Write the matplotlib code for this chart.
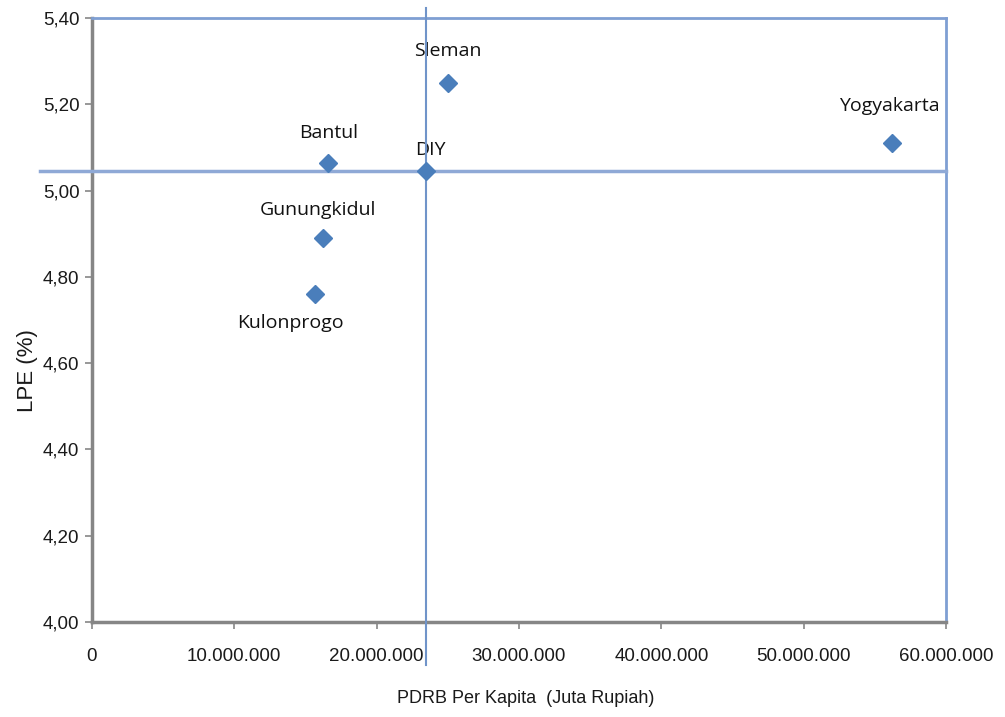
import matplotlib
matplotlib.use("Agg")
import matplotlib.pyplot as plt
from matplotlib.ticker import FuncFormatter

# data: PDRB per kapita (Rp) dan LPE (%)
wilayah = ['Kulonprogo', 'Bantul', 'Gunungkidul', 'Sleman', 'Yogyakarta', 'DIY']
pdrb = [15700000, 16600000, 16200000, 25000000, 56200000, 23500000]
lpe = [4.76, 5.065, 4.89, 5.25, 5.11, 5.045]

# offset label (points) relatif terhadap titik
label_pos = {
    'Kulonprogo': (-18, -21),
    'Bantul': (0, 21),
    'Gunungkidul': (-3, 20),
    'Sleman': (0, 23),
    'Yogyakarta': (-2, 27),
    'DIY': (3, 15),
}

biru = '#4a7ebb'
garis = '#7094c9'
abu = '#868686'

fig = plt.figure(figsize=(10.05, 7.17), dpi=100)
ax = fig.add_axes([0.0915, 0.1325, 0.8498, 0.8424])

ax.plot(pdrb, lpe, linestyle='none', marker='D', markersize=9.5,
        color=biru, zorder=5)

for nama, x, y in zip(wilayah, pdrb, lpe):
    ax.annotate(nama, (x, y), xytext=label_pos[nama], textcoords='offset points',
                ha='center', va='center', fontsize=14, color='#111111',
                family=['Open Sans', 'DejaVu Sans'])

# garis kuadran melalui titik DIY
diy = wilayah.index('DIY')
ax.axvline(pdrb[diy], ymin=-0.071, ymax=1.017, color=garis, lw=1.5,
           clip_on=False, zorder=3)
ax.axhline(lpe[diy], xmin=-0.061, xmax=1.0, color='#8fa9d6', lw=2.5,
           clip_on=False, zorder=3)

ax.set_xlim(0, 60000000)
ax.set_ylim(4.0, 5.4)
ax.set_xticks(range(0, 60000001, 10000000))
ax.set_yticks([4.0, 4.2, 4.4, 4.6, 4.8, 5.0, 5.2, 5.4])
ax.xaxis.set_major_formatter(FuncFormatter(lambda v, p: f"{int(v):,}".replace(',', '.')))
ax.yaxis.set_major_formatter(FuncFormatter(lambda v, p: f"{v:.2f}".replace('.', ',')))

for s in ['top', 'right']:
    ax.spines[s].set_color('#7f9fd3')
    ax.spines[s].set_linewidth(2)
for s in ['left', 'bottom']:
    ax.spines[s].set_color(abu)
    ax.spines[s].set_linewidth(2.5)

ax.tick_params(axis='both', colors=abu, length=5, width=1.2, labelcolor='#1a1a1a',
               labelsize=13.5)
ax.tick_params(axis='x', pad=14)
ax.tick_params(axis='y', pad=4)
for lab in ax.get_xticklabels() + ax.get_yticklabels():
    lab.set_family(['Liberation Sans Narrow', 'Liberation Sans'])

ax.set_xlabel('PDRB Per Kapita  (Juta Rupiah)', fontsize=13, color='#1a1a1a',
              family=['Liberation Sans Narrow', 'Liberation Sans'])
ax.xaxis.set_label_coords(0.508, -0.112)
ax.set_ylabel('LPE (%)', fontsize=16, color='#1a1a1a',
              family=['Liberation Sans Narrow', 'Liberation Sans'])
ax.yaxis.set_label_coords(-0.063, 0.416)

fig.savefig('out.png', dpi=100)
